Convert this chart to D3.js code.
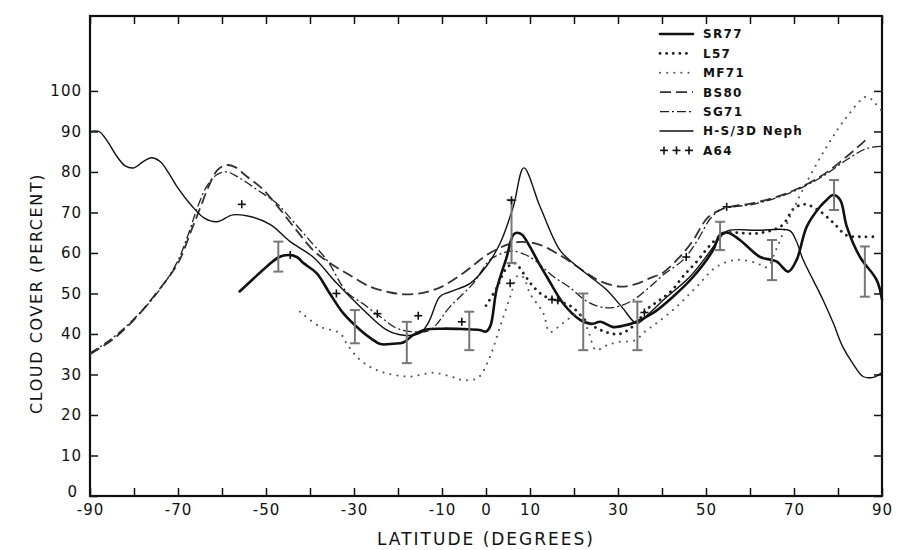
<!DOCTYPE html>
<html>
<head>
<meta charset="utf-8">
<script src="https://cdn.jsdelivr.net/npm/d3@7/dist/d3.min.js"></script>
<style>
  html, body { margin: 0; padding: 0; background: #fff; }
  svg { display: block; }
  text { font-family: "DejaVu Sans", "Liberation Sans", sans-serif; fill: #111; }
</style>
</head>
<body>
<svg id="chart" width="898" height="550"></svg>
<script>
// Zonal mean cloud cover (percent) by latitude for several climatologies.
const sr77 = [[-56,50.5],[-53,53.5],[-50,56.5],[-47,59],[-45,59.5],[-43,59],[-41.5,57.5],[-38.5,55],[-35.5,50],[-32.5,45.2],[-28.6,41],[-26,38.8],[-24,37.5],[-21,37.6],[-18.8,37.9],[-16.6,39.7],[-14,41],[-10,41.3],[-5,41.2],[-1.5,41],[0,40.6],[1,42],[2.4,50.9],[4.7,59],[6.2,64.5],[7,65],[8.2,64.5],[10,61.5],[12,57.5],[13.8,54.2],[17.5,47.6],[21.4,43.5],[24,42.5],[26,43],[28.9,41.7],[31,42],[33.5,42.7],[38,45.2],[42.5,49.2],[47,54],[51.6,60.7],[53.2,64.5],[55,65],[57.7,63.2],[60,61],[62.3,59],[66,57.9],[68.7,55.4],[70.6,58.3],[72.9,66.5],[75.9,71.4],[77.4,73.1],[78.9,74.3],[80.5,73.1],[82,66.5],[85,59],[88.8,53.3],[90,48.5]];

const l57 = [[0,47],[2.5,51.5],[4.5,56],[6.5,57.5],[8.5,55],[10.5,52],[13,49.5],[16,48.3],[19.5,46.7],[23,43],[26,41],[29,40],[31,40.2],[34,42.5],[36.5,46],[39.5,48.4],[42,50.5],[45,54.5],[48,58],[51,62],[54,64.8],[57,65],[61,64.8],[65,65.6],[67.5,67],[70,71],[72.5,72],[75.5,70.6],[79,67.4],[82,64.3],[85,64],[88,64]];

const mf71 = [[-42.3,45.5],[-37.7,41.8],[-33.2,40.2],[-31.7,37.7],[-29.4,34.4],[-26.4,31.9],[-22.6,30.3],[-17.3,29.5],[-12,30.4],[-8,29.5],[-5.2,28.6],[-1.8,29.2],[0.9,34.4],[3.2,41.8],[5.5,49.2],[7.3,54.5],[8.5,54],[10,50],[13,45.2],[14.5,40.5],[17.5,42.7],[21,45],[23,41.5],[25,36],[27,37],[30,38],[34,38.5],[36,40.5],[38.8,42.7],[43.3,46.7],[47.9,51.7],[52.4,56.6],[57,58.3],[61.5,57.5],[63.8,56.5],[66,61],[68.5,67.5],[72,75.6],[77.4,86.2],[82,93.6],[86.5,98.6],[88.4,97],[90,95]];

const bs80 = [[-90,35],[-85,38.5],[-80,43.5],[-75,50],[-70,57.5],[-67,65.5],[-65,71],[-63,76.5],[-61,80.5],[-59,81.7],[-57,81.2],[-54.5,79],[-51,76],[-47,71],[-43,65.5],[-39.3,60.7],[-35.5,57.5],[-31.7,55],[-26.4,51.7],[-22,50.3],[-18.8,49.8],[-15,50],[-12.7,50.6],[-10,51.7],[-5.2,55],[0.9,60],[6.2,62.5],[9,62.7],[12.3,62],[17.5,59],[22.9,55],[26,53],[30.5,51.7],[34,52.3],[37.3,53.8],[40.3,55.2],[44,59],[47,63],[50.2,68.5],[53,70.5],[55.5,71.4],[60.7,72.3],[68.3,74.7],[75.9,78.8],[82,83.8],[86.4,88]];

const sg71 = [[-90,35.3],[-85.5,38.5],[-80.2,43.5],[-74.8,50],[-70.3,57.5],[-67.3,65.7],[-65.8,70.6],[-63.5,76.4],[-61.2,79.3],[-59,80],[-56,78.5],[-52,75.6],[-47.6,72.3],[-44,68],[-40,63],[-36,58],[-31.7,50.4],[-28,47.5],[-24.1,44.3],[-20.3,41.4],[-17,40.6],[-12.7,41],[-8.2,46.7],[-2.9,52.5],[0.9,58.3],[3.9,60],[6,60.5],[10,59],[15.3,54.2],[19,51.5],[23,48],[27,46.5],[30,46.8],[33.5,48.4],[37.3,51.7],[40.3,54.6],[44.8,58.3],[48,63],[51,68.5],[53.5,70.8],[57,71.5],[60.7,72],[68.3,74.5],[75.9,78.5],[82,83],[86.5,85.8],[90,86.3]];

const hs3d = [[-90,90],[-88,90],[-86,87.5],[-84,84],[-82,81.5],[-80,81],[-78,82.5],[-76,83.5],[-74,82.5],[-72,79.5],[-70,76],[-67,71.8],[-64,68.6],[-61.2,67.7],[-57.5,69.4],[-53.6,69],[-49,67],[-44.5,62.8],[-39.3,59],[-33.9,52.5],[-27.9,46],[-22.6,41],[-18.8,39.7],[-15,40.2],[-13,43],[-10.5,49.2],[-8.2,50.4],[-3.6,52.5],[0,56.6],[3.2,62.4],[6.2,71.4],[8.6,81],[12.3,71.4],[16.8,60.7],[19.8,57.5],[23.6,54.2],[27.4,50.9],[31,46.5],[34.3,42.6],[37,45],[40.3,48.4],[46.4,54.2],[51,60.5],[53.5,64.2],[55,65.5],[62,65.6],[69,65.5],[70.5,63],[72,58.5],[74.5,53],[76.6,48.4],[79,42.5],[81,37],[83.5,32.5],[85.7,29.5],[88,29.3],[90,30.5]];

// A64 point estimates and SR77 uncertainty ranges
const a64 = [[-55.5,72],[-44.5,59.5],[-34,50],[-24.7,45],[-15.4,44.5],[-5.5,43],[5.5,52.5],[5.8,73],[15,48.5],[16.3,48.3],[36,45.3],[45.5,59],[54.7,71.4]];
const errLat  = [-47.2, -29.8, -18, -3.8, 5.8, 22.1, 34.4, 53.2, 65, 79.1, 86.1];
const errLow  = [55.4, 37.7, 32.8, 36, 57.5, 36, 36, 60.7, 53.3, 70.6, 49.2];
const errHigh = [62.8, 45.9, 43, 45.5, 73.1, 50, 48, 67.7, 63.2, 78, 61.6];

const xTicks = d3.range(-90, 91, 10);
const xLabelled = [-90, -70, -50, -30, -10, 0, 10, 30, 50, 70, 90];
const yTicks = d3.range(0, 101, 10);

const svg = d3.select("#chart");
const x = d3.scaleLinear().domain([-90, 90]).range([90, 882]);
const y = d3.scaleLinear().domain([0, 118.5]).range([496, 16]);

// Axes with inward ticks on all four sides
const axisFont = g => g.selectAll("text")
  .style("font-size", "15px").style("letter-spacing", "1px").attr("fill", "#111");

svg.append("g").attr("transform", `translate(0,${y(0)})`)
  .call(d3.axisBottom(x).tickValues(xTicks).tickSize(-8).tickPadding(8)
    .tickFormat(d => xLabelled.includes(d) ? String(d) : ""))
  .call(g => g.select(".domain").remove())
  .call(g => g.selectAll("line").attr("stroke", "#111").attr("stroke-width", 1.5))
  .call(axisFont);

svg.append("g").attr("transform", `translate(0,${y.range()[1]})`)
  .call(d3.axisTop(x).tickValues(xTicks).tickSize(-8).tickFormat(""))
  .call(g => g.select(".domain").remove())
  .call(g => g.selectAll("line").attr("stroke", "#111").attr("stroke-width", 1.5));

svg.append("g").attr("transform", `translate(${x(-90)},0)`)
  .call(d3.axisLeft(y).tickValues(yTicks).tickSize(-8).tickPadding(8))
  .call(g => g.select(".domain").remove())
  .call(g => g.selectAll("line").attr("stroke", "#111").attr("stroke-width", 1.5))
  .call(axisFont)
  // lift the zero label a little so it clears the -90 latitude label
  .call(g => g.selectAll(".tick").filter(d => d === 0).select("text").attr("dy", "0.05em").attr("x", -12));

svg.append("g").attr("transform", `translate(${x(90)},0)`)
  .call(d3.axisRight(y).tickValues(yTicks).tickSize(-8).tickFormat(""))
  .call(g => g.select(".domain").remove())
  .call(g => g.selectAll("line").attr("stroke", "#111").attr("stroke-width", 1.5));

// Frame
svg.append("rect")
  .attr("x", x(-90)).attr("y", y.range()[1])
  .attr("width", x(90) - x(-90)).attr("height", y(0) - y.range()[1])
  .attr("fill", "none").attr("stroke", "#111").attr("stroke-width", 2.2);

// Axis titles
svg.append("text")
  .attr("transform", `translate(42,${y(50)}) rotate(-90)`)
  .attr("text-anchor", "middle")
  .style("font-size", "16px").style("letter-spacing", "1.6px")
  .text("CLOUD COVER (PERCENT)");

svg.append("text")
  .attr("x", x(0)).attr("y", 545)
  .attr("text-anchor", "middle")
  .style("font-size", "17px").style("letter-spacing", "2px")
  .text("LATITUDE (DEGREES)");

// Series styles
const series = [
  { name: "SR77", data: sr77, width: 2.6, dash: null, color: "#111", cap: "round" },
  { name: "L57", data: l57, width: 2.8, dash: "0.1 6.5", color: "#222", cap: "round" },
  { name: "MF71", data: mf71, width: 2.0, dash: "0.1 7", color: "#555", cap: "round" },
  { name: "BS80", data: bs80, width: 1.8, dash: "11 5", color: "#333", cap: "butt" },
  { name: "SG71", data: sg71, width: 1.3, dash: "9 3 2 3", color: "#222", cap: "butt" },
  { name: "H-S/3D Neph", data: hs3d, width: 1.4, dash: null, color: "#111", cap: "round" }
];

const line = d3.line()
  .x(d => x(d[0])).y(d => y(d[1]))
  .curve(d3.curveCatmullRom.alpha(0.5));

svg.append("g").selectAll("path")
  .data(series).join("path")
  .attr("d", s => line(s.data))
  .attr("fill", "none")
  .attr("stroke", s => s.color)
  .attr("stroke-width", s => s.width)
  .attr("stroke-dasharray", s => s.dash)
  .attr("stroke-linecap", s => s.cap)
  .attr("stroke-linejoin", "round");

// Error bars
const eb = svg.append("g").attr("stroke", "#777").attr("stroke-width", 2);
errLat.forEach((lat, i) => {
  const cx = x(lat);
  eb.append("line").attr("x1", cx).attr("x2", cx).attr("y1", y(errLow[i])).attr("y2", y(errHigh[i]));
  eb.append("line").attr("x1", cx - 5).attr("x2", cx + 5).attr("y1", y(errLow[i])).attr("y2", y(errLow[i]));
  eb.append("line").attr("x1", cx - 5).attr("x2", cx + 5).attr("y1", y(errHigh[i])).attr("y2", y(errHigh[i]));
});

// A64 plus markers
const pm = svg.append("g").attr("stroke", "#111").attr("stroke-width", 1.6);
a64.forEach(d => {
  const cx = x(d[0]), cy = y(d[1]);
  pm.append("line").attr("x1", cx - 4).attr("x2", cx + 4).attr("y1", cy).attr("y2", cy);
  pm.append("line").attr("x1", cx).attr("x2", cx).attr("y1", cy - 4).attr("y2", cy + 4);
});

// Legend
const legend = svg.append("g").attr("transform", "translate(660,34)");
const rowH = 19.4;
series.forEach((s, i) => {
  const g = legend.append("g").attr("transform", `translate(0,${i * rowH})`);
  g.append("line").attr("x1", 0).attr("x2", 33).attr("y1", 0).attr("y2", 0)
    .attr("stroke", s.color).attr("stroke-width", s.width)
    .attr("stroke-dasharray", s.dash).attr("stroke-linecap", s.cap);
  g.append("text").attr("x", 43).attr("y", 0).attr("dy", "0.36em")
    .style("font-size", "12px").style("letter-spacing", "1.3px").style("font-weight", "bold")
    .text(s.name);
});
const a64Row = legend.append("g").attr("transform", `translate(0,${series.length * rowH})`);
[4, 16.5, 29].forEach(px => {
  a64Row.append("line").attr("x1", px - 4).attr("x2", px + 4).attr("y1", 0).attr("y2", 0)
    .attr("stroke", "#111").attr("stroke-width", 1.6);
  a64Row.append("line").attr("x1", px).attr("x2", px).attr("y1", -4).attr("y2", 4)
    .attr("stroke", "#111").attr("stroke-width", 1.6);
});
a64Row.append("text").attr("x", 43).attr("y", 0).attr("dy", "0.36em")
  .style("font-size", "12px").style("letter-spacing", "1.3px").style("font-weight", "bold")
  .text("A64");
</script>
</body>
</html>
